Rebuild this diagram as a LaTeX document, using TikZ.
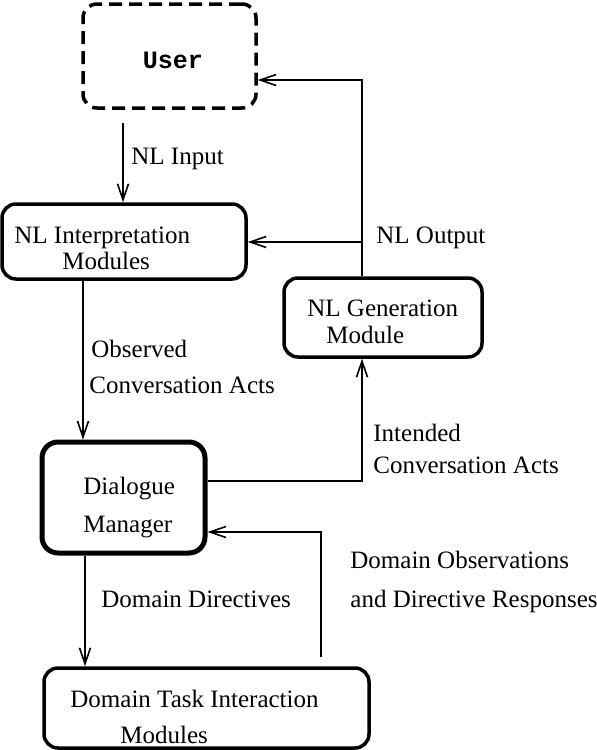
\documentclass[tikz,border=0pt]{standalone}
\usepackage{fontspec}
\setmainfont{Liberation Serif}
\setmonofont{Liberation Mono}
\usetikzlibrary{arrows.meta}
\tikzset{
  m/.style={draw, line width=1.75pt, rounded corners=7pt, inner sep=0pt},
  mu/.style={m, dash pattern=on 6.5pt off 3.5pt},
  mdm/.style={m, line width=2.5pt, rounded corners=8pt},
  a/.style={-{Straight Barb[length=8pt, width=5.5pt]}, line width=0.8pt},
  t/.style={anchor=base west, inner sep=0pt, font=\fontsize{12.5}{15}\selectfont},
  tt/.style={t, anchor=base, font=\ttfamily\bfseries\fontsize{12.5}{15}\selectfont},
}

\begin{document}
\begin{tikzpicture}[x=0.5pt, y=-0.5pt]
\useasboundingbox (0,0) rectangle (596,750);

% boxes
\node[mu,  minimum width=86.5pt, minimum height=52pt]   (user)   at (169.5, 56)  {};
\node[m,   minimum width=122pt,  minimum height=37.5pt] (interp) at (124, 241.5) {};
\node[m,   minimum width=99pt,   minimum height=39.5pt] (gen)    at (383, 317.5) {};
\node[mdm, minimum width=81.5pt, minimum height=55.5pt] (dm)     at (123.5, 497.5) {};
\node[m,   minimum width=162.5pt,minimum height=40pt]   (task)   at (206.5, 708) {};

% box texts
\node[tt] (user-1)  at (173, 68)  {User};
\node[t] (interp-1) at (14, 243)  {NL Interpretation};
\node[t] (interp-2) at (62, 269)  {Modules};
\node[t] (gen-1)    at (307, 316) {NL Generation};
\node[t] (gen-2)    at (326, 343) {Module};
\node[t] (dm-1)     at (83, 494)  {Dialogue};
\node[t] (dm-2)     at (83, 532)  {Manager};
\node[t] (task-1)   at (70, 707)  {Domain Task Interaction};
\node[t] (task-2)   at (120, 743) {Modules};

% turning points
\coordinate (c-in)  at (123, 123);
\coordinate (c-top) at (362, 80);
\coordinate (c-out) at (362, 242);
\coordinate (c-obs) at (83, 0);
\coordinate (c-int) at (362, 481);
\coordinate (c-dir) at (85, 0);
\coordinate (c-rs)  at (321, 657);
\coordinate (c-ret) at (321, 532);

% connectors
\draw[a] (c-in) -- (c-in |- interp.north);
\draw[a] (c-top |- gen.north) -- (c-top) -- (c-top -| user.east);
\draw[a] (c-out) -- (c-out -| interp.east);
\draw[a] (c-obs |- interp.south) -- (c-obs |- dm.north);
\draw[a] (c-int -| dm.east) -- (c-int) -- (c-int |- gen.south);
\draw[a] (c-dir |- dm.south) -- (c-dir |- task.north);
\draw[a] (c-rs) -- (c-ret) -- (c-ret -| dm.east);

% connector labels
\node[t] (l-in)    at (131, 164) {NL Input};
\node[t] (l-out)   at (376, 243) {NL Output};
\node[t] (l-obs1)  at (91, 357)  {Observed};
\node[t] (l-obs2)  at (89, 393)  {Conversation Acts};
\node[t] (l-int1)  at (373, 441) {Intended};
\node[t] (l-int2)  at (373, 473) {Conversation Acts};
\node[t] (l-dir)   at (101, 607) {Domain Directives};
\node[t] (l-ret1)  at (350, 568) {Domain Observations};
\node[t] (l-ret2)  at (350, 607) {and Directive Responses};
\end{tikzpicture}
\end{document}
